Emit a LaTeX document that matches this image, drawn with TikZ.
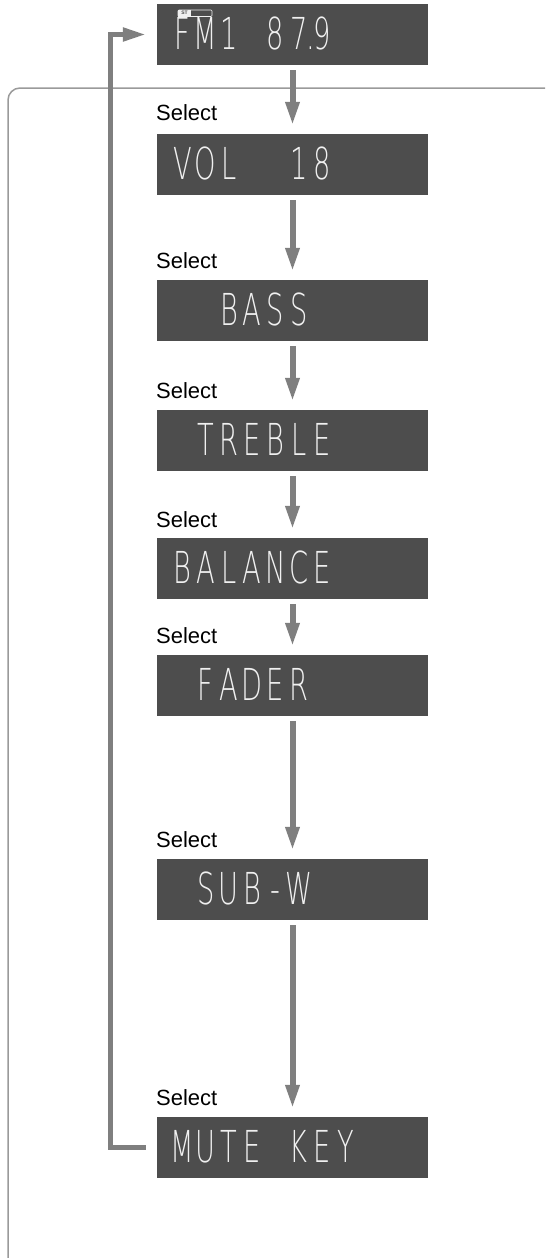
\documentclass[tikz,border=0pt]{standalone}
\usepackage{fontspec}
\setmainfont{Liberation Sans}
\newfontfamily\lcdfont{DejaVu Sans}[UprightFont=* ExtraLight]
\usetikzlibrary{arrows.meta}
\definecolor{lcdbg}{HTML}{4D4D4D}
\definecolor{arrowgray}{HTML}{7F7F7F}
\definecolor{framegray}{HTML}{9A9A9A}
\definecolor{lcdtext}{HTML}{F0F0F0}
\newcommand\lc[1]{\makebox[37.6pt][c]{#1}}
\tikzset{
  lcd/.style={fill=lcdbg, draw=none, minimum width=271pt, minimum height=61pt, inner sep=0pt},
  lcdtxt/.style={anchor=base west, inner sep=0pt, text=lcdtext, font=\fontsize{44}{44}\lcdfont},
  sel/.style={anchor=base west, inner sep=0pt, font=\fontsize{22}{26}\selectfont},
  arr/.style={draw=arrowgray, line width=6pt, -{Triangle[length=24pt,width=13pt]}},
  fb/.style={draw=arrowgray, line width=5pt, line join=miter, -{Triangle[length=23pt,width=13pt]}},
  frameline/.style={draw=framegray, line width=1.5pt, rounded corners=12pt}
}
\begin{document}
\begin{tikzpicture}[x=1pt,y=-1pt]
\useasboundingbox (0,0) rectangle (546,1258);
% frame
\draw[frameline] (545,88) -- (8,88) -- (8,1258);
% displays
\node[lcd] (fm) at (292.5,34.5) {};
\node[lcd] (vol) at (292.5,164.5) {};
\node[lcd] (bass) at (292.5,310.5) {};
\node[lcd] (treble) at (292.5,440.5) {};
\node[lcd] (balance) at (292.5,568.5) {};
\node[lcd] (fader) at (292.5,685.5) {};
\node[lcd] (subw) at (292.5,889.5) {};
\node[lcd] (mute) at (292.5,1147.5) {};
% display texts
\node[lcdtxt] (fmt) at (170.5,49) {\scalebox{0.62}[1]{\lc{F}\lc{M}\lc{1}\lc{~}\lc{8}\lc{7}\makebox[0pt]{.}\lc{9}}};
\node[lcdtxt] (volt) at (170.5,179) {\scalebox{0.62}[1]{\lc{V}\lc{O}\lc{L}\lc{~}\lc{~}\lc{1}\lc{8}}};
\node[lcdtxt] (basst) at (170.5,325) {\scalebox{0.62}[1]{\lc{~}\lc{~}\lc{B}\lc{A}\lc{S}\lc{S}}};
\node[lcdtxt] (treblet) at (170.5,455) {\scalebox{0.62}[1]{\lc{~}\lc{T}\lc{R}\lc{E}\lc{B}\lc{L}\lc{E}}};
\node[lcdtxt] (balancet) at (170.5,583) {\scalebox{0.62}[1]{\lc{B}\lc{A}\lc{L}\lc{A}\lc{N}\lc{C}\lc{E}}};
\node[lcdtxt] (fadert) at (170.5,700) {\scalebox{0.62}[1]{\lc{~}\lc{F}\lc{A}\lc{D}\lc{E}\lc{R}}};
\node[lcdtxt] (subwt) at (170.5,904) {\scalebox{0.62}[1]{\lc{~}\lc{S}\lc{U}\lc{B}\lc{-}\lc{W}}};
\node[lcdtxt] (mutet) at (170.5,1162) {\scalebox{0.62}[1]{\lc{M}\lc{U}\lc{T}\lc{E}\lc{~}\lc{K}\lc{E}\lc{Y}}};
% ST indicator
\draw[draw=lcdtext, line width=0.6pt, rounded corners=1pt] (178,10) rectangle (212,16.5);
\node[fill=lcdtext, text=lcdbg, inner sep=0.3pt, minimum width=13pt, minimum height=6.5pt, font=\fontsize{5}{5}\selectfont\bfseries] (st) at (184.5,13.25) {ST};
% select labels
\node[sel] (s1) at (156,120) {Select};
\node[sel] (s2) at (156,268) {Select};
\node[sel] (s3) at (156,398) {Select};
\node[sel] (s4) at (156,527) {Select};
\node[sel] (s5) at (156,643) {Select};
\node[sel] (s6) at (156,847) {Select};
\node[sel] (s7) at (156,1105) {Select};
% arrows
\draw[arr] ([yshift=-5pt]fm.south) -- ([yshift=8pt]vol.north);
\draw[arr] ([yshift=-5pt]vol.south) -- ([yshift=8pt]bass.north);
\draw[arr] ([yshift=-5pt]bass.south) -- ([yshift=8pt]treble.north);
\draw[arr] ([yshift=-5pt]treble.south) -- ([yshift=8pt]balance.north);
\draw[arr] ([yshift=-5pt]balance.south) -- ([yshift=8pt]fader.north);
\draw[arr] ([yshift=-5pt]fader.south) -- ([yshift=8pt]subw.north);
\draw[arr] ([yshift=-5pt]subw.south) -- ([yshift=8pt]mute.north);
% feedback
\draw[fb] ([xshift=-11pt]mute.west) -| ([xshift=-46.5pt]fm.west) -- ([xshift=-11pt]fm.west);
\end{tikzpicture}
\end{document}
